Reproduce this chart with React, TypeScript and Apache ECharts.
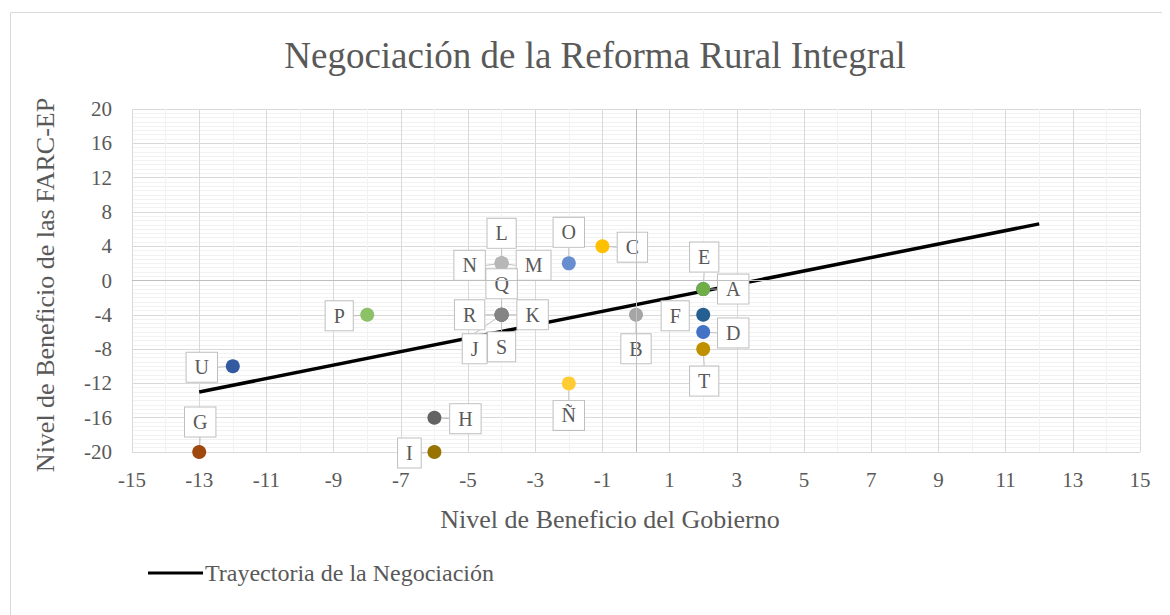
import React, { useEffect, useRef } from "react";
import * as echarts from "echarts";

// ---- Data ----
const pointNames = ["A", "B", "C", "D", "E", "F", "G", "H", "I", "J", "K", "L", "M", "N", "Ñ", "O", "P", "Q", "R", "S", "T", "U"];
const pointX = [2, 0, -1, 2, 2, 2, -13, -6, -6, -4, -4, -4, -4, -4, -2, -2, -8, -4, -4, -4, 2, -12];
const pointY = [-1, -4, 4, -6, -1, -4, -20, -16, -20, -4, -4, 2, 2, 2, -12, 2, -4, -4, -4, -4, -8, -10];

const trajectoryName = "Trayectoria de la Negociación";
const trajectoryX = [-13, 12];
const trajectoryY = [-13, 6.6];

const xTickMin = -15;
const xTickMax = 15;
const yTickMin = -20;
const yTickMax = 20;

// ---- Styles ----
const pointColors: Record<string, string> = {
  A: "#4472C4", B: "#A5A5A5", C: "#FFC000", D: "#4472C4", E: "#70AD47", F: "#255E91",
  G: "#9E480E", H: "#636363", I: "#997300", J: "#848484", K: "#848484", L: "#B7B7B7",
  M: "#B7B7B7", N: "#B7B7B7", "Ñ": "#FFCD33", O: "#698ED0", P: "#8CC168", Q: "#848484",
  R: "#848484", S: "#848484", T: "#BF9000", U: "#335AA1",
};
const labelShift: Record<string, [number, number]> = {
  A: [30, 0], B: [0, 34], C: [30, 1], D: [30, 1], E: [1, -32], F: [-28, 1],
  G: [1, -30], H: [31, 1], I: [-25, 1], J: [-27, 34], K: [31, 0], L: [0, -30],
  M: [32, 2], N: [-32, 2], "Ñ": [0, 32], O: [0, -31], P: [-28, 1], Q: [0, -31],
  R: [-32, 0], S: [0, 32], T: [1, 32], U: [-31, 1],
};

const FONT = "'Liberation Serif', 'Times New Roman', serif";
const TEXT = "#595959";

export default function App() {
  const ref = useRef<HTMLDivElement>(null);
  useEffect(() => {
    if (!ref.current) return;
    const chart = echarts.init(ref.current, null, { renderer: "svg" });
    const scatterData = pointNames.map((n, i) => ({
      name: n,
      value: [pointX[i], pointY[i]],
      itemStyle: { color: pointColors[n], opacity: 1 },
    }));
    chart.setOption({
      animation: false,
      backgroundColor: "#fff",
      textStyle: { fontFamily: FONT },
      title: {
        text: "Negociación de la Reforma Rural Integral",
        left: 582,
        textAlign: "center",
        top: 24,
        textStyle: { fontFamily: FONT, fontSize: 37, fontWeight: "normal", color: TEXT },
      },
      legend: {
        data: [{ name: trajectoryName, icon: "rect" }],
        left: 135,
        top: 548,
        itemWidth: 55,
        itemHeight: 3,
        itemGap: 3,
        textStyle: { fontFamily: FONT, fontSize: 24, color: TEXT, padding: [0, 0, 0, -3] },
      },
      graphic: [
        {
          type: "rect",
          shape: { x: 2.5, y: 4.5, width: 1400, height: 900 },
          style: { fill: "none", stroke: "#D9D9D9", lineWidth: 1 },
          silent: true,
          z: -10,
        },
      ],
      grid: { left: 124, right: 30, top: 101, bottom: 163, containLabel: false },
      xAxis: {
        type: "value",
        min: xTickMin,
        max: xTickMax,
        interval: 2,
        name: "Nivel de Beneficio del Gobierno",
        nameLocation: "middle",
        nameGap: 54,
        nameTextStyle: { fontFamily: FONT, fontSize: 26, color: TEXT, padding: [0, 52, 0, 0] },
        axisLine: { show: false },
        axisTick: { show: false },
        axisLabel: { fontFamily: FONT, fontSize: 21, color: TEXT, margin: 17 },
        splitLine: { show: true, lineStyle: { color: "#D9D9D9", width: 1 } },
        minorTick: { show: false, splitNumber: 2 },
        minorSplitLine: { show: true, lineStyle: { color: "#F2F2F2", width: 1 } },
      },
      yAxis: {
        type: "value",
        min: yTickMin,
        max: yTickMax,
        interval: 4,
        name: "Nivel de Beneficio de las FARC-EP",
        nameLocation: "middle",
        nameGap: 74,
        nameTextStyle: { fontFamily: FONT, fontSize: 26, color: TEXT, padding: [0, 9, 0, 0] },
        axisLine: { show: false },
        axisTick: { show: false },
        axisLabel: { fontFamily: FONT, fontSize: 21, color: TEXT, margin: 20 },
        splitLine: { show: true, lineStyle: { color: "#D9D9D9", width: 1 } },
        minorTick: { show: false, splitNumber: 8 },
        minorSplitLine: { show: true, lineStyle: { color: "#F2F2F2", width: 1 } },
      },
      series: [
        {
          name: "ejes",
          type: "line",
          data: [],
          z: 1,
          silent: true,
          markLine: {
            silent: true,
            symbol: ["none", "none"],
            label: { show: false },
            lineStyle: { color: "#BFBFBF", type: "solid", width: 1 },
            data: [{ xAxis: 0 }, { yAxis: 0 }],
          },
        },
        {
          name: trajectoryName,
          type: "line",
          z: 3,
          data: trajectoryX.map((x, i) => [x, trajectoryY[i]]),
          symbol: "none",
          lineStyle: { color: "#000", width: 3.5 },
          itemStyle: { color: "#000" },
        },
        {
          name: "Puntos",
          type: "scatter",
          z: 4,
          symbolSize: 14,
          data: scatterData,
          label: {
            show: true,
            position: "inside",
            formatter: (p: any) => p.name,
            fontFamily: FONT,
            fontSize: 20,
            color: TEXT,
            backgroundColor: "#fff",
            borderColor: "#BFBFBF",
            borderWidth: 1,
            padding: [5, 8, 4, 8],
          },
          labelLine: { show: true, lineStyle: { color: "#BFBFBF", width: 1 } },
          labelLayout: (params: any) => {
            const s = labelShift[pointNames[params.dataIndex]] || [0, 0];
            return { dx: s[0], dy: s[1] };
          },
        },
      ],
    });
    return () => chart.dispose();
  }, []);
  return <div ref={ref} style={{ width: 1162, height: 607 }} />;
}
